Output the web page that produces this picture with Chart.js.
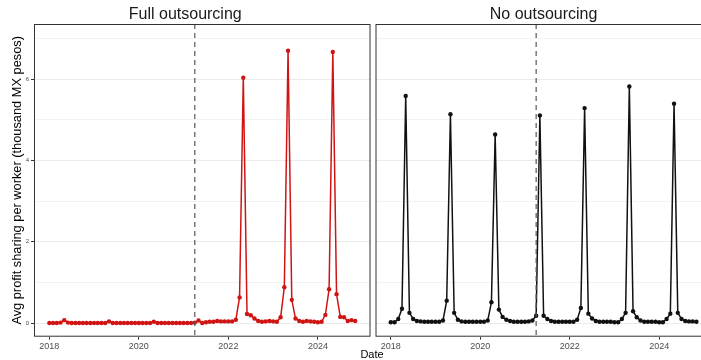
<!DOCTYPE html>
<html lang="en">
<head>
  <meta charset="UTF-8" />
  <title>Avg profit sharing per worker</title>
  <script src="https://cdn.jsdelivr.net/npm/chart.js"></script>
  <style>
    * { box-sizing: border-box; margin: 0; padding: 0 }
    html, body { width: 701px; height: 360px; overflow: hidden; background: #fff }
    body { position: relative; font-family: 'Liberation Sans', Arial, sans-serif }
    .panel { position: absolute; top: 0; height: 360px }
    #p-full { left: 0; width: 371px }
    #p-none { left: 372px; width: 345px }
    #xlabel { position: absolute; left: 322px; width: 100px; top: 348px; text-align: center; font-size: 11px; color: #000 }
  </style>
</head>
<body>
  <div class="panel" id="p-full"><canvas id="c-full"></canvas></div>
  <div class="panel" id="p-none"><canvas id="c-none"></canvas></div>
  <div id="xlabel">Date</div>
  <script>
    // monthly series, Jan 2018 .. Nov 2024 (one row per year)
    const startYear = 2018;
    const fullOutsourcing = [
      0.00, 0.00, 0.00, 0.01, 0.07, 0.01, 0.00, 0.00, 0.00, 0.00, 0.00, 0.00,
      0.00, 0.00, 0.00, 0.00, 0.04, 0.00, 0.00, 0.00, 0.00, 0.00, 0.00, 0.00,
      0.00, 0.00, 0.00, 0.00, 0.03, 0.00, 0.00, 0.00, 0.00, 0.00, 0.00, 0.00,
      0.00, 0.00, 0.00, 0.01, 0.06, 0.00, 0.02, 0.03, 0.03, 0.05, 0.04, 0.04,
      0.04, 0.04, 0.08, 0.63, 6.04, 0.22, 0.19, 0.11, 0.05, 0.03, 0.04, 0.05,
      0.04, 0.03, 0.14, 0.88, 6.70, 0.57, 0.11, 0.05, 0.03, 0.05, 0.04, 0.03,
      0.02, 0.03, 0.20, 0.83, 6.67, 0.71, 0.15, 0.14, 0.05, 0.07, 0.05
    ];
    const noOutsourcing = [
      0.02, 0.02, 0.10, 0.35, 5.59, 0.25, 0.10, 0.05, 0.04, 0.03, 0.03, 0.03,
      0.03, 0.03, 0.06, 0.55, 5.14, 0.25, 0.08, 0.04, 0.03, 0.03, 0.03, 0.03,
      0.03, 0.03, 0.06, 0.51, 4.64, 0.33, 0.15, 0.08, 0.05, 0.03, 0.03, 0.03,
      0.03, 0.04, 0.06, 0.18, 5.11, 0.18, 0.10, 0.05, 0.03, 0.03, 0.03, 0.03,
      0.03, 0.03, 0.08, 0.37, 5.29, 0.23, 0.11, 0.05, 0.03, 0.03, 0.03, 0.03,
      0.02, 0.02, 0.10, 0.25, 5.82, 0.29, 0.14, 0.06, 0.03, 0.03, 0.03, 0.03,
      0.02, 0.02, 0.10, 0.23, 5.40, 0.25, 0.10, 0.05, 0.04, 0.04, 0.03
    ];
    const xTicks = [2018, 2020, 2022, 2024];
    const yTicks = [0, 2, 4, 6];
    const reformDate = 2021.25; // April 2021

    const toPoints = arr => arr.map((v, i) => ({ x: startYear + i / 12, y: v }));

    const frame = {
      id: 'frame',
      afterDraw(chart) {
        const a = chart.chartArea, c = chart.ctx;
        const xs = chart.scales.x.getPixelForValue(reformDate);
        c.save();
        c.strokeStyle = '#555';
        c.lineWidth = 1.2;
        c.setLineDash([5, 4]);
        c.beginPath(); c.moveTo(xs, a.top); c.lineTo(xs, a.bottom); c.stroke();
        c.setLineDash([]);
        c.strokeStyle = '#333';
        c.lineWidth = 1;
        c.strokeRect(a.left + 0.5, a.top + 0.5, a.right - a.left - 1, a.bottom - a.top - 1);
        c.restore();
      }
    };

    function makePanel(id, title, data, color, showY, pad) {
      return new Chart(document.getElementById(id), {
        type: 'line',
        data: {
          datasets: [{
            data: toPoints(data),
            borderColor: color, backgroundColor: color,
            borderWidth: 1.5, pointRadius: 2.2, pointBorderWidth: 0
          }]
        },
        options: {
          responsive: true, maintainAspectRatio: false, animation: false,
          layout: { padding: pad, autoPadding: false },
          plugins: {
            legend: { display: false }, tooltip: { enabled: false },
            title: {
              display: true, text: title, color: '#1a1a1a',
              font: { family: 'Liberation Sans', size: 16, weight: 'normal', lineHeight: 1 },
              padding: { top: 7, bottom: 1 }
            }
          },
          scales: {
            x: {
              type: 'linear', min: 2017.658, max: 2025.175,
              afterBuildTicks: s => { s.ticks = xTicks.map(v => ({ value: v })); },
              afterFit: s => { s.height = 23.3; },
              grid: { drawOnChartArea: false, drawTicks: true, tickLength: 3, color: '#333' },
              border: { display: false },
              ticks: { color: '#4d4d4d', padding: 1, font: { family: 'Liberation Sans', size: 9 }, maxRotation: 0, callback: v => String(v) }
            },
            y: {
              min: -0.337, max: 7.36,
              afterBuildTicks: s => { s.ticks = [0, 1, 2, 3, 4, 5, 6, 7].map(v => ({ value: v })); },
              afterFit: s => { s.width = showY ? 34 : 0; },
              grid: {
                color: c => yTicks.includes(c.tick.value) ? '#ebebeb' : '#f3f3f3',
                lineWidth: 1,
                drawTicks: showY, tickLength: 3,
                tickColor: c => yTicks.includes(c.tick.value) ? '#333' : 'rgba(0,0,0,0)'
              },
              border: { display: false },
              ticks: {
                display: showY, color: '#4d4d4d', padding: 2,
                font: { family: 'Liberation Sans', size: 6 },
                callback: v => yTicks.includes(v) ? String(v) : ''
              },
              title: {
                display: showY, text: 'Avg profit sharing per worker (thousand MX pesos)',
                color: '#000', font: { family: 'Liberation Sans', size: 12.8 },
                padding: { top: 10, bottom: 0 }
              }
            }
          }
        },
        plugins: [frame]
      });
    }

    makePanel('c-full', 'Full outsourcing', fullOutsourcing, '#d01414', true, { top: 0, right: 0.5, left: 0, bottom: 0 });
    makePanel('c-none', 'No outsourcing', noOutsourcing, '#111111', false, { top: 0, right: 5.3, left: 3.5, bottom: 0 });
  </script>
</body>
</html>
